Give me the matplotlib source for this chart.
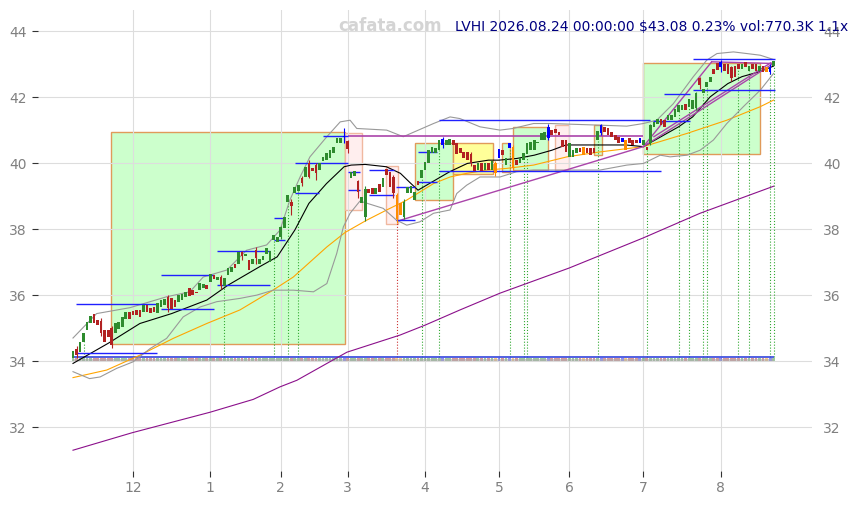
import numpy as np
import matplotlib.pyplot as plt
from matplotlib.patches import Rectangle

# daily candles, trading-day index 0..199 (2025-11-05 .. 2026-08-24)
opens = [
    34.10, 34.38, 34.28, 34.58, 34.94, 35.16, 35.42, 35.24, 35.22, 34.94,
    34.94, 35.00, 34.85, 34.97, 35.04, 35.29, 35.49, 35.52, 35.55, 35.55,
    35.49, 35.70, 35.62, 35.65, 35.45, 35.64, 35.70, 35.95, 35.90, 35.85,
    35.80, 35.85, 35.95, 36.23, 36.15, 36.10, 36.15, 36.23, 36.30, 36.40,
    36.60, 36.45, 36.55, 36.28, 36.61, 36.70, 36.94, 36.94, 37.30, 37.20,
    37.06, 36.95, 37.38, 36.95, 37.05, 37.26, 37.00, 37.67, 37.60, 37.77,
    38.02, 38.83, 38.83, 39.10, 39.15, 39.54, 39.59, 40.01, 39.85, 39.95,
    39.79, 40.05, 40.10, 40.14, 40.30, 40.60, 40.60, 40.80, 40.67, 39.54,
    39.60, 39.46, 38.78, 38.37, 39.23, 39.25, 39.05, 39.38, 39.28, 39.81,
    39.74, 39.59, 39.03, 38.78, 38.37, 39.08, 39.10, 38.88, 39.45, 39.54,
    39.79, 39.99, 40.30, 40.30, 40.39, 40.55, 40.55, 40.55, 40.70, 40.60,
    40.45, 40.35, 40.35, 40.29, 39.95, 39.80, 40.00, 39.80, 40.00, 39.80,
    40.00, 40.14, 40.40, 39.95, 40.45, 40.50, 40.10, 40.00, 40.09, 40.29,
    40.40, 40.40, 40.60, 40.70, 40.70, 40.75, 41.00, 41.04, 40.95, 40.70,
    40.70, 40.19, 40.20, 40.30, 40.45, 40.50, 40.45, 40.45, 40.45, 40.70,
    40.90, 41.10, 41.05, 40.95, 40.85, 40.80, 40.65, 40.70, 40.75, 40.70,
    40.70, 40.60, 40.55, 40.50, 40.60, 41.10, 41.20, 41.35, 41.30, 41.30,
    41.30, 41.40, 41.55, 41.60, 41.80, 41.71, 41.65, 41.66, 42.57, 42.11,
    42.30, 42.46, 42.85, 43.02, 42.90, 43.00, 43.00, 42.92, 42.95, 43.00,
    42.85, 43.05, 42.80, 43.00, 43.00, 42.80, 42.95, 42.90, 42.75, 42.95,
]
closes = [
    34.30, 34.18, 34.58, 34.85, 35.19, 35.36, 35.16, 35.09, 34.84, 34.58,
    34.74, 34.48, 35.15, 35.18, 35.34, 35.49, 35.29, 35.39, 35.40, 35.35,
    35.70, 35.50, 35.45, 35.48, 35.76, 35.85, 35.88, 35.62, 35.58, 35.65,
    36.00, 36.02, 36.10, 35.97, 36.00, 36.05, 36.36, 36.35, 36.18, 36.64,
    36.48, 36.55, 36.28, 36.52, 36.81, 36.85, 36.81, 37.31, 37.20, 37.25,
    36.76, 37.10, 37.11, 37.10, 37.20, 37.43, 37.35, 37.82, 37.75, 38.07,
    38.37, 39.03, 38.70, 39.28, 39.35, 39.40, 39.89, 39.59, 39.75, 39.70,
    39.99, 40.20, 40.30, 40.39, 40.50, 40.75, 40.75, 40.82, 40.42, 39.74,
    39.75, 39.13, 38.98, 39.23, 39.08, 39.05, 39.25, 39.13, 39.54, 39.64,
    39.28, 39.08, 38.32, 38.42, 38.83, 39.28, 39.30, 39.13, 39.35, 39.79,
    40.04, 40.39, 40.50, 40.45, 40.70, 40.72, 40.70, 40.72, 40.55, 40.29,
    40.30, 40.15, 40.10, 39.99, 39.75, 40.00, 39.75, 40.00, 39.80, 40.05,
    39.70, 40.42, 40.25, 40.15, 40.60, 39.84, 39.95, 40.15, 40.30, 40.60,
    40.65, 40.70, 40.65, 40.90, 40.95, 41.10, 40.85, 40.90, 40.85, 40.50,
    40.34, 40.60, 40.40, 40.45, 40.35, 40.24, 40.30, 40.25, 40.30, 40.98,
    41.15, 40.95, 40.85, 40.80, 40.70, 40.60, 40.75, 40.39, 40.60, 40.55,
    40.60, 40.75, 40.70, 40.40, 41.15, 41.25, 41.35, 41.15, 41.10, 41.45,
    41.45, 41.65, 41.76, 41.75, 41.60, 41.93, 41.90, 42.11, 42.36, 42.26,
    42.45, 42.62, 42.70, 42.82, 43.05, 42.80, 42.70, 42.57, 42.60, 42.85,
    43.00, 42.90, 42.95, 42.85, 42.80, 42.95, 42.75, 42.75, 42.90, 43.08,
]
orange_days = [92, 93, 120, 125, 145, 157, 197]
blue_days = [77, 105, 121, 124, 135, 150, 156, 161, 184, 198]

# the longer wicks that can be seen: day -> (low, high)
wicks = {
    1: (34.10, 34.45), 8: (34.75, 35.30), 11: (34.40, 35.05), 27: (35.50, 36.00),
    42: (36.20, 36.60), 48: (37.05, 37.35), 52: (36.95, 37.45), 59: (37.70, 38.10),
    62: (38.42, 38.90), 65: (39.30, 39.60), 67: (39.55, 40.08), 69: (39.48, 40.00),
    77: (40.60, 41.05), 78: (40.30, 40.70), 81: (38.95, 39.50), 83: (38.25, 39.30),
    91: (38.95, 39.65), 92: (38.20, 39.10), 94: (38.30, 38.90), 105: (40.45, 40.80),
    113: (39.90, 40.35), 120: (39.60, 40.05), 125: (39.78, 40.55), 135: (40.70, 41.18),
    150: (40.85, 41.20), 164: (40.55, 41.20), 177: (41.60, 42.15), 178: (42.25, 42.62),
    184: (42.75, 43.12), 187: (42.50, 42.95), 198: (42.70, 43.00),
}

month_labels = ['12', '1', '2', '3', '4', '5', '6', '7', '8']
month_start = [17, 39, 59, 78, 100, 121, 141, 162, 184]

# indicator lines (day index, price)
mid_x = [0, 10, 19, 28, 38, 44, 53, 58, 63, 67, 72, 77, 79, 83, 89, 93, 96, 98, 102,
         107, 112, 118, 121, 126, 131, 136, 140, 145, 150, 157, 162, 167, 172, 176,
         181, 186, 190, 195, 199]
mid_y = [33.93, 34.54, 35.14, 35.44, 35.85, 36.3, 36.86, 37.16, 37.97, 38.78, 39.38,
         39.89, 39.94, 39.96, 39.89, 39.69, 39.38, 39.18, 39.43, 39.74, 39.99, 40.09,
         40.09, 40.14, 40.24, 40.39, 40.55, 40.55, 40.55, 40.55, 40.5, 40.8, 41.1,
         41.4, 42.01, 42.41, 42.62, 42.77, 42.94]
upper_x = [0, 6.7, 16.2, 26.6, 33.2, 37, 43.7, 49.3, 55, 58.8, 61.6, 64.5, 67.3, 72.1,
           75.9, 78.7, 80.6, 89.1, 93.8, 102.4, 107.1, 109.9, 115.6, 121.3, 125, 130.8,
           135.5, 149.7, 157.3, 162, 165.8, 170.5, 176.2, 180, 182.9, 187.6, 191.4,
           195.2, 199]
upper_y = [34.7, 35.44, 35.62, 35.95, 36.1, 36.55, 36.76, 37.36, 37.52, 37.97, 38.88,
           39.58, 40.19, 40.8, 41.25, 41.3, 41.05, 41.0, 40.8, 41.2, 41.4, 41.35, 41.1,
           41.0, 41.05, 41.2, 41.2, 41.15, 41.12, 41.2, 41.3, 41.8, 42.62, 43.12, 43.32,
           43.37, 43.32, 43.27, 43.14]
lower_x = [0, 4.7, 7.7, 12.4, 17.1, 21.9, 26.6, 31.3, 36.1, 40.8, 47.4, 52.2, 56.9,
           62.6, 68.3, 72.1, 74.9, 76.8, 78.7, 81.5, 88.1, 91.9, 94.8, 98.5, 102.4,
           107.1, 109, 111.8, 115.6, 121.3, 126, 130.8, 149.7, 157.3, 162, 166.8, 169.6,
           174.4, 178.1, 181.9, 185.7, 190.4, 195.2, 199]
lower_y = [33.68, 33.47, 33.52, 33.78, 33.98, 34.38, 34.69, 35.34, 35.64, 35.8, 35.9,
           36.0, 36.15, 36.15, 36.1, 36.35, 37.26, 38.07, 38.48, 38.85, 38.63, 38.27,
           38.12, 38.22, 38.48, 38.58, 39.08, 39.33, 39.58, 39.58, 39.74, 39.79, 39.79,
           39.94, 39.99, 40.24, 40.19, 40.24, 40.39, 40.7, 41.2, 41.71, 42.21, 42.72]
ma50_x = [0, 9.6, 19, 28.5, 38, 47.4, 56.8, 62.6, 72.1, 77.3, 83.4, 89.1, 94.8, 102.4,
          107.1, 111.8, 117.5, 123.2, 130.8, 140.3, 149.7, 162, 174.4, 185.7, 195.2, 199]
ma50_y = [33.5, 33.73, 34.18, 34.69, 35.14, 35.55, 36.15, 36.55, 37.46, 37.9, 38.27,
          38.58, 38.88, 39.38, 39.58, 39.69, 39.79, 39.84, 39.94, 40.19, 40.34, 40.5,
          40.9, 41.3, 41.71, 41.91]
ma200_x = [0, 16.8, 38.9, 51.2, 58.8, 63.6, 77.8, 92.9, 100, 109.9, 121.3, 140.9,
           161.9, 178.1, 199]
ma200_y = [31.3, 31.83, 32.45, 32.84, 33.22, 33.42, 34.27, 34.79, 35.09, 35.55, 36.06,
           36.82, 37.73, 38.48, 39.3]

# boxes: (start day, end day, low, high, kind)
boxes = [
    (10.8, 77.3, 34.52, 40.94, 'up'),
    (77.3, 82.1, 38.58, 40.92, 'down'),
    (88.9, 92.2, 38.17, 39.91, 'down'),
    (97.0, 108.0, 38.88, 40.60, 'up'),
    (108.0, 119.2, 39.66, 40.60, 'flat'),
    (121.8, 124.1, 39.72, 40.60, 'up'),
    (125.0, 135.0, 39.79, 41.08, 'up'),
    (137.0, 141.0, 39.79, 41.15, 'down'),
    (148.0, 150.2, 40.24, 41.15, 'up'),
    (161.8, 195.2, 40.29, 43.02, 'up'),
]
# support / resistance segments: (start day, end day, price)
levels = [
    (0.9, 24, 35.72), (0.9, 24, 34.26), (25, 40, 36.6), (25, 40, 35.57),
    (41, 56, 36.32), (41, 56, 37.35), (57, 60.3, 38.35), (57, 60.3, 37.67),
    (63, 78, 39.99), (63, 70, 39.08), (71, 78, 40.82), (78, 81.5, 39.74),
    (78, 81.5, 39.18), (84, 91.3, 39.79), (84, 91.3, 39.03), (91.8, 97, 39.28),
    (91.8, 97, 38.27), (98, 103.3, 40.34), (98, 103.3, 39.43), (104, 164, 41.32),
    (104, 167, 39.77), (167.9, 175.3, 42.09), (164.8, 175.3, 41.27),
    (176.2, 199.5, 43.14), (176.2, 199.5, 42.21),
]
# trend lines: (day0, price0, day1, price1)
trends = [
    (93, 38.27, 162, 40.5),
    (162, 40.5, 181.4, 43.07),
    (162, 40.5, 198.6, 43.0),
    (165, 40.8, 198.2, 43.04),
    (181.4, 43.07, 198.6, 43.02),
]
signal_days = [3, 43, 57, 61, 64, 92, 99, 104, 124, 128, 129, 149, 163, 172, 175,
               179, 180, 189, 192, 198, 199]
signal_red = [92]

days = np.arange(len(closes))
o = np.array(opens)
c = np.array(closes)

colors = []
for i in days:
    if i in orange_days:
        colors.append('#ff8c00')
    elif i in blue_days:
        colors.append('#0000ff')
    elif c[i] >= o[i]:
        colors.append('#2e8b2e')
    else:
        colors.append('#b22222')

fig = plt.figure(figsize=(8.57, 5.05), dpi=100)
ax = fig.add_axes([38 / 857, 34 / 505, 774 / 857, 461 / 505])

box_style = {
    'up': ('#ccffcc', '#e09a5a'),
    'down': ('#ffeeee', '#f0b8a0'),
    'flat': ('#ffff99', '#e09a5a'),
}
for x0, x1, lo, hi, kind in boxes:
    fc, ec = box_style[kind]
    ax.add_patch(Rectangle((x0, lo), x1 - x0, hi - lo, facecolor=fc, edgecolor=ec,
                           lw=1, zorder=1))

# volume strip
ax.bar(days, 0.09, bottom=34.01, width=0.8, color=colors, alpha=0.45, zorder=2)
ax.hlines(34.03, 0, days[-1], color='#aaaaaa', lw=1.5, alpha=0.6, zorder=2)
ax.hlines(34.11, 0, days[-1], color='#3344dd', lw=1.2, zorder=3)

# signal markers
for d in signal_days:
    col = '#cc3333' if d in signal_red else '#33aa33'
    ax.vlines(d, 34.11, min(o[d], c[d]), colors=col, linestyles=':', lw=0.8, zorder=2)

ax.plot(ma200_x, ma200_y, color='#8b108b', lw=0.8, zorder=3)
ax.plot(ma50_x, ma50_y, color='#ffa500', lw=0.8, zorder=3)
ax.plot(upper_x, upper_y, color='#999999', lw=0.8, zorder=3)
ax.plot(lower_x, lower_y, color='#999999', lw=0.8, zorder=3)
ax.plot(mid_x, mid_y, color='black', lw=0.8, zorder=3)

ax.hlines(40.82, 78, 162, color='#aa44aa', lw=1.2, zorder=3)
for d0, p0, d1, p1 in trends:
    ax.plot([d0, d1], [p0, p1], color='#aa44aa', lw=1.0, zorder=3)

for x0, x1, p in levels:
    ax.hlines(p, x0, x1, color='#2020ff', lw=1.0, zorder=4)

wd = list(wicks.keys())
ax.vlines(wd, [wicks[d][0] for d in wd], [wicks[d][1] for d in wd],
          colors=[colors[d] for d in wd], lw=0.8, zorder=5)

body = np.where(np.abs(c - o) < 0.03, 0.03, c - o)
ax.bar(days, body, bottom=o, width=0.75, color=colors, zorder=5)

ax.set_xlim(-9.94, 209.9)
ax.set_ylim(30.67, 44.64)
ax.set_xticks(month_start)
ax.set_xticklabels(month_labels)
ax.set_yticks([32, 34, 36, 38, 40, 42, 44])
ax.grid(True, color='#dddddd', lw=0.8)
ax.set_axisbelow('line')
for s in ax.spines.values():
    s.set_visible(False)
ax.tick_params(axis='both', colors='#333333', labelcolor='#808080', labelsize=10,
               length=4)
ax.tick_params(axis='y', right=False, labelright=True, pad=4)

fig.text(338 / 857, 1 - 31 / 505, 'cafata.com', color='#d4d4d4', fontsize=12,
         fontweight='bold', va='baseline')
fig.text(455 / 857, 1 - 31 / 505, 'LVHI 2026.08.24 00:00:00 $43.08 0.23% vol:770.3K 1.1x',
         color='#000080', fontsize=10, va='baseline')

fig.savefig('out.png', dpi=100)
